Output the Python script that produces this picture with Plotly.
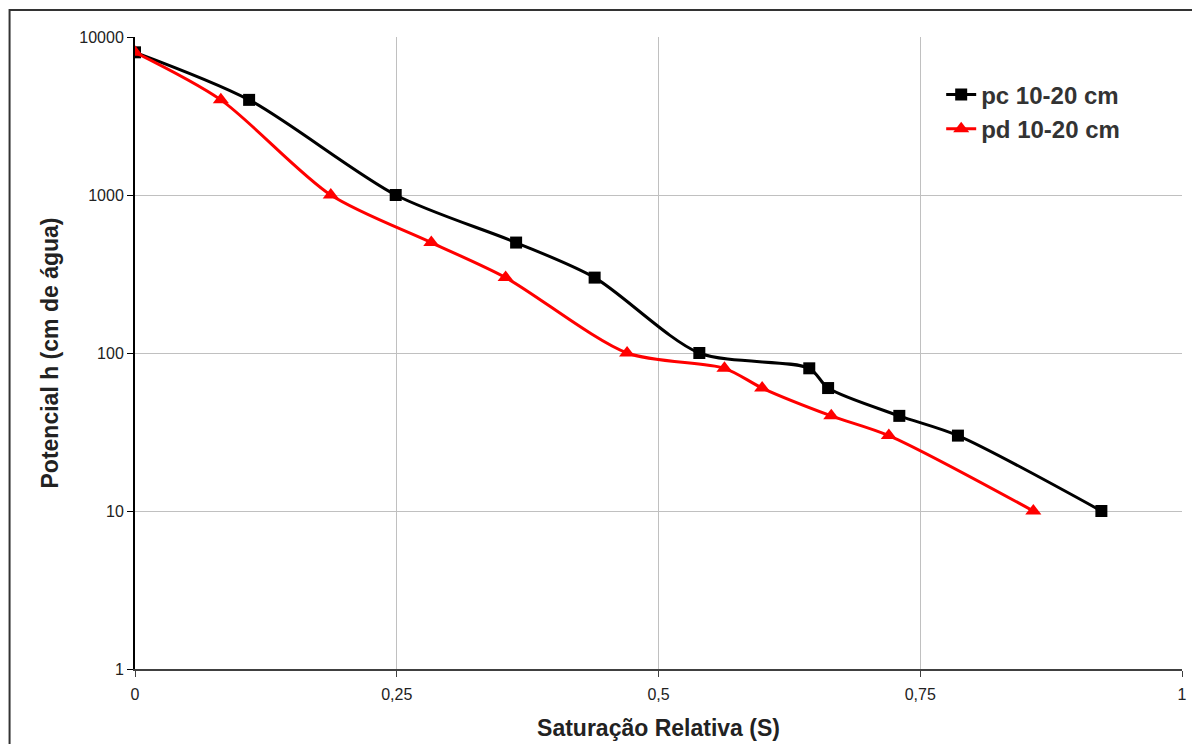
import plotly.graph_objects as go

sat_pc = [0.0, 0.109, 0.249, 0.364, 0.439, 0.539, 0.644, 0.662, 0.730, 0.786, 0.923]
h_pc = [8000, 4000, 1000, 500, 300, 100, 80, 60, 40, 30, 10]
sat_pd = [0.0, 0.082, 0.187, 0.283, 0.354, 0.470, 0.563, 0.599, 0.665, 0.720, 0.858]
h_pd = [8000, 4000, 1000, 500, 300, 100, 80, 60, 40, 30, 10]

x_ticks = [0, 0.25, 0.5, 0.75, 1]
x_ticktext = ["0", "0,25", "0,5", "0,75", "1"]
y_ticks = [1, 10, 100, 1000, 10000]
y_ticktext = ["1", "10", "100", "1000", "10000"]

font = "Liberation Sans, Arial, sans-serif"

fig = go.Figure()
fig.add_trace(go.Scatter(
    x=sat_pc, y=h_pc, name="pc 10-20 cm", mode="lines+markers",
    line=dict(color="black", width=3, shape="spline", smoothing=0.8),
    marker=dict(symbol="square", size=12, color="black"),
))
fig.add_trace(go.Scatter(
    x=sat_pd, y=h_pd, name="pd 10-20 cm", mode="lines+markers",
    line=dict(color="#ff0000", width=3, shape="spline", smoothing=0.8),
    marker=dict(symbol="triangle-up", size=14, color="#ff0000"),
))

fig.update_layout(
    width=1192, height=744,
    margin=dict(l=135, r=5, t=37, b=75),
    paper_bgcolor="white", plot_bgcolor="white",
    font=dict(family=font, size=16, color="#222222"),
    showlegend=True,
    legend=dict(
        x=0.77, y=0.944, xanchor="left", yanchor="top",
        font=dict(family=font, size=24, color="#333333", weight="bold"),
        bgcolor="rgba(0,0,0,0)", tracegroupgap=0,
    ),
    xaxis=dict(
        range=[0, 1], tickvals=x_ticks, ticktext=x_ticktext,
        showgrid=True, gridcolor="#c0c0c0", gridwidth=1,
        showline=True, linecolor="#404040", linewidth=2,
        ticks="outside", ticklen=6, tickcolor="#404040", ticklabelstandoff=4,
        zeroline=False,
        title=dict(text="<b>Saturação Relativa (S)</b>", font=dict(family=font, size=23, color="#222222"), standoff=18),
    ),
    yaxis=dict(
        type="log", range=[0, 4], tickvals=y_ticks, ticktext=y_ticktext,
        showgrid=True, gridcolor="#c0c0c0", gridwidth=1,
        showline=True, linecolor="black", linewidth=2,
        ticks="outside", ticklen=6, tickcolor="black",
        zeroline=False,
        title=dict(text="<b>Potencial h (cm de água)</b>", font=dict(family=font, size=23, color="#222222"), standoff=14),
    ),
)

fig.add_shape(
    type="rect", xref="paper", yref="paper",
    x0=-0.1198, x1=1.05, y0=-0.3, y1=1.0427,
    line=dict(color="#333333", width=2), fillcolor="rgba(0,0,0,0)", layer="below",
)

fig.write_html("out.html")
